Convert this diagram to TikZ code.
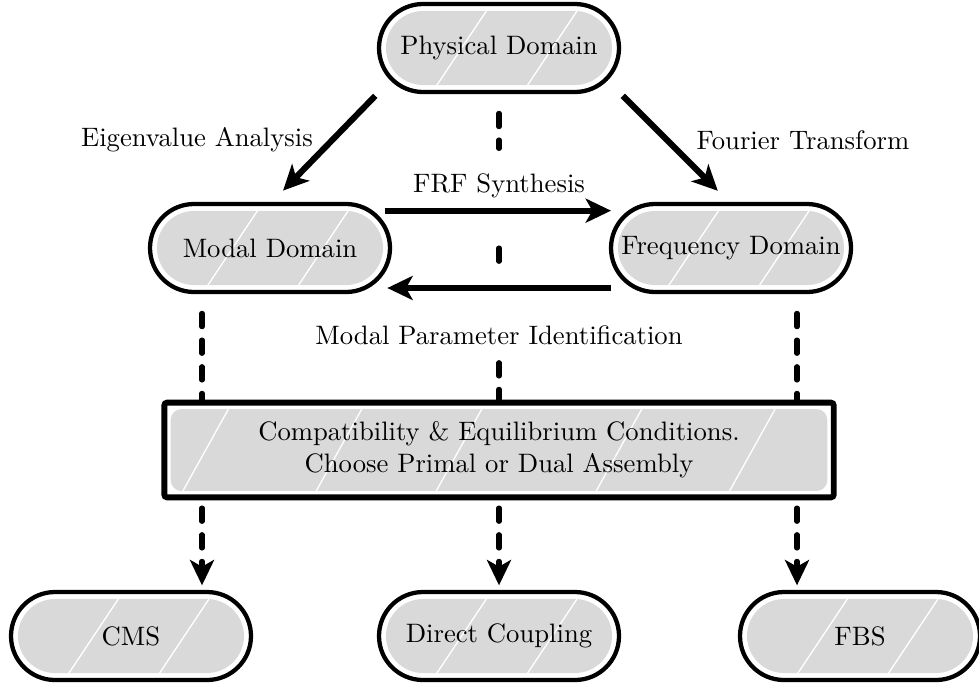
\documentclass[tikz,border=0pt]{standalone}
\usepackage{tikz}
\usetikzlibrary{calc}
\usetikzlibrary{arrows.meta}
\tikzset{>={Stealth[length=9.5pt,width=9pt,inset=2.5pt]}}
\colorlet{fillcol}{black!15}
\tikzset{pill/.style = {shape=rectangle, draw, line width=1.6pt, rounded corners=16.5pt,
minimum width=90pt, minimum height=33pt, inner sep=0pt, outer sep=0pt,
path picture={\fill[fillcol, rounded corners=14pt]
([shift={(2.6pt,2.6pt)}]path picture bounding box.south west) rectangle
([shift={(-2.6pt,-2.6pt)}]path picture bounding box.north east);
\foreach \s in {-14pt,20pt}
\draw[white, line width=0.5pt] ([xshift=\s-12pt, yshift=-18pt]path picture bounding box.center) -- ([xshift=\s+12pt, yshift=18pt]path picture bounding box.center);}}}
\tikzset{bigbox/.style = {shape=rectangle, draw, line width=2.2pt, rounded corners=1pt,
minimum width=251pt, minimum height=35.5pt, inner sep=0pt, outer sep=0pt, align=center,
path picture={\fill[fillcol, rounded corners=4pt]
([shift={(2.4pt,2.4pt)}]path picture bounding box.south west) rectangle
([shift={(-2.4pt,-2.4pt)}]path picture bounding box.north east);
\foreach \s in {-110pt,-60pt,-15pt,45pt,95pt}
\draw[white, line width=0.5pt] ([xshift=\s-10pt, yshift=-18pt]path picture bounding box.center) -- ([xshift=\s+10pt, yshift=18pt]path picture bounding box.center);}}}
\tikzset{arr/.style = {->, line width=2.3pt}}
\tikzset{dashline/.style = {line width=1.9pt, line cap=round, dash pattern=on 5pt off 5pt}}
\tikzset{dasharr/.style = {dashline, ->}}

\begin{document}
\begin{tikzpicture}[x=0.375pt, y=-0.375pt]
                \useasboundingbox (0,0) rectangle (979,686);

                \node[pill] (P) at (499,48) {Physical Domain};
                \node[pill] (M) at (270,248) {Modal Domain};
                \node[pill] (F) at (731,248) {Frequency Domain};
                \node[bigbox] (C) at (499,450) {Compatibility \& Equilibrium Conditions.\\ Choose Primal or Dual Assembly};
                \node[pill] (CMS) at (131,636) {CMS};
                \node[pill] (DC) at (499,636) {Direct Coupling};
                \node[pill] (FBS) at (860,636) {FBS};

                \node (eig) at (197,140) {Eigenvalue Analysis};
                \node (fou) at (803,140) {Fourier Transform};
                \node (frf) at (499,186) {FRF Synthesis};
                \node (mpi) at (499,335) {Modal Parameter Identification};

                \coordinate (l) at (202,0);
                \coordinate (r) at (797,0);
                \coordinate (mid) at (499,260);

                \draw[arr, shorten <=2pt, shorten >=7pt] (P.south west) to (M.north);
                \draw[arr, shorten <=2pt, shorten >=7pt] (P.south east) to (F.north);
                \draw[arr, shorten <=-2pt] ([yshift=14pt]M.east) to ([yshift=14pt]F.west);
                \draw[arr, shorten >=-1pt] ([yshift=-15pt]F.west) to ([yshift=-15pt]M.east);

                \draw[dashline, shorten <=8pt, shorten >=6pt] (P) to (frf);
                \draw[dashline] ([yshift=4.5pt]mid) to ([yshift=-4.5pt]mid);
                \draw[dashline, shorten >=3pt] (C) to (mpi);
                \draw[dashline, shorten <=8pt] (M.south -| l) to (C.north -| l);
                \draw[dashline, shorten <=8pt] (F.south -| r) to (C.north -| r);

                \draw[dasharr, shorten <=4pt, shorten >=2.5pt] (C.south -| l) to (CMS.north -| l);
                \draw[dasharr, shorten <=4pt, shorten >=2.5pt] (C.south) to (DC.north);
                \draw[dasharr, shorten <=4pt, shorten >=2.5pt] (C.south -| r) to (FBS.north -| r);
            \end{tikzpicture}
\end{document}
